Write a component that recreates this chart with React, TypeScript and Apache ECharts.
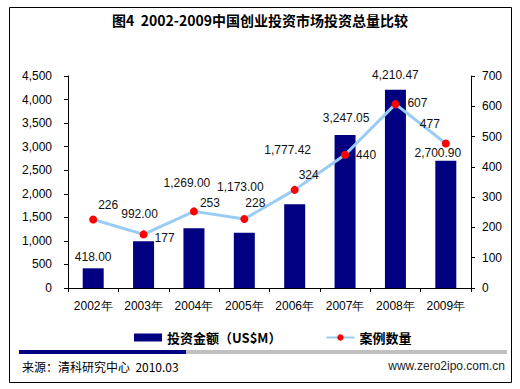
import React, { useEffect, useRef } from "react";
import * as echarts from "echarts";

const years = ["2002年", "2003年", "2004年", "2005年", "2006年", "2007年", "2008年", "2009年"];
const amounts = [418.0, 992.0, 1269.0, 1173.0, 1777.42, 3247.05, 4210.47, 2700.9];
const counts = [226, 177, 253, 228, 324, 440, 607, 477];
const amountLabelOffsets: number[][] = [[0, 0], [-4, -16], [-7, -34], [-4, -35], [-7, -43], [1, -6], [0, -4], [-8, 3]];
const countLabelOffsets: number[][] = [[15, -15], [21, 4], [16, -8], [11, -16], [14, -15], [21, 0], [22, -1], [-16, -20]];

const titleText = "图4  2002-2009中国创业投资市场投资总量比较";
const barName = "投资金额（US$M）";
const lineName = "案例数量";
const sourceText = "来源：清科研究中心  2010.03";
const siteText = "www.zero2ipo.com.cn";

const fmt2 = (v: number) =>
  v.toLocaleString("en-US", { minimumFractionDigits: 2, maximumFractionDigits: 2 });
const fmt0 = (v: number) => v.toLocaleString("en-US");

const FONT = "'Liberation Sans', Arial, sans-serif";
const CJK = "'Noto Sans CJK SC', 'Liberation Sans', sans-serif";

export default function App() {
  const ref = useRef<HTMLDivElement>(null);
  useEffect(() => {
    if (!ref.current) return;
    const chart = echarts.init(ref.current, null, { renderer: "svg" });
    chart.setOption({
      animation: false,
      backgroundColor: "#ffffff",
      title: {
        text: titleText,
        left: "center",
        top: 8,
        textStyle: { fontSize: 14, fontWeight: "bold", color: "#000", fontFamily: CJK },
      },
      legend: {
        left: 129,
        top: 326,
        itemWidth: 28,
        itemHeight: 8,
        itemGap: 44,
        textStyle: { fontSize: 13, fontWeight: "bold", color: "#000", fontFamily: CJK },
        data: [
          { name: barName, icon: "rect" },
          { name: lineName },
        ],
      },
      grid: { left: 68, right: 49, top: 76, bottom: 101, containLabel: false },
      xAxis: {
        type: "category",
        data: years,
        boundaryGap: true,
        axisLine: { lineStyle: { color: "#000", width: 1 } },
        axisTick: { show: true, interval: 0, length: 4, lineStyle: { color: "#000" } },
        axisLabel: { fontSize: 12, color: "#000", fontFamily: FONT, margin: 12, interval: 0 },
        splitLine: { show: false },
      },
      yAxis: [
        {
          type: "value",
          min: 0,
          max: 4500,
          interval: 500,
          position: "left",
          axisLine: { show: true, lineStyle: { color: "#000" } },
          axisTick: { show: true, length: 4, lineStyle: { color: "#000" } },
          axisLabel: { fontSize: 12, color: "#000", fontFamily: FONT, margin: 16, formatter: (v: number) => fmt0(v) },
          splitLine: { show: false },
        },
        {
          type: "value",
          min: 0,
          max: 700,
          interval: 100,
          position: "right",
          axisLine: { show: true, lineStyle: { color: "#000" } },
          axisTick: { show: true, length: 4, lineStyle: { color: "#000" } },
          axisLabel: { fontSize: 12, color: "#000", fontFamily: FONT, margin: 11 },
          splitLine: { show: false },
        },
      ],
      series: [
        {
          name: barName,
          type: "bar",
          yAxisIndex: 0,
          barWidth: 21,
          itemStyle: { color: "#000080" },
          data: amounts.map((v, i) => ({
            value: v,
            label: { offset: amountLabelOffsets[i] },
          })),
          label: {
            show: true,
            position: "top",
            distance: 5,
            fontSize: 12,
            color: "#111",
            fontFamily: FONT,
            formatter: (p: any) => fmt2(p.value),
          },
        },
        {
          name: lineName,
          type: "line",
          yAxisIndex: 1,
          symbol: "circle",
          symbolSize: 8,
          lineStyle: { color: "#99ccf5", width: 3 },
          itemStyle: { color: "#ff0000" },
          data: counts.map((v, i) => ({
            value: v,
            label: { offset: countLabelOffsets[i] },
          })),
          label: {
            show: true,
            position: "inside",
            align: "center",
            verticalAlign: "middle",
            fontSize: 12,
            color: "#111",
            fontFamily: FONT,
          },
        },
      ],
      graphic: [
        {
          type: "rect",
          shape: { x: 9.5, y: 7.5, width: 502, height: 375 },
          style: { fill: "none", stroke: "#000", lineWidth: 1 },
          silent: true,
        },
        {
          type: "rect",
          shape: { x: 186, y: 350, width: 321, height: 4 },
          style: { fill: "#c0c0c0" },
          silent: true,
        },
        {
          type: "rect",
          shape: { x: 19, y: 350, width: 167, height: 4 },
          style: { fill: "#000080" },
          silent: true,
        },
        {
          type: "text",
          left: 22,
          top: 360,
          style: { text: sourceText, fontSize: 12, fill: "#000", fontFamily: CJK },
        },
        {
          type: "text",
          right: 15,
          top: 360,
          style: { text: siteText, fontSize: 12, fill: "#222", fontFamily: FONT },
        },
      ],
    });
    return () => chart.dispose();
  }, []);
  return (
    <div
      ref={ref}
      style={{ position: "fixed", left: 0, top: 0, width: 520, height: 389, background: "#fff" }}
    />
  );
}
